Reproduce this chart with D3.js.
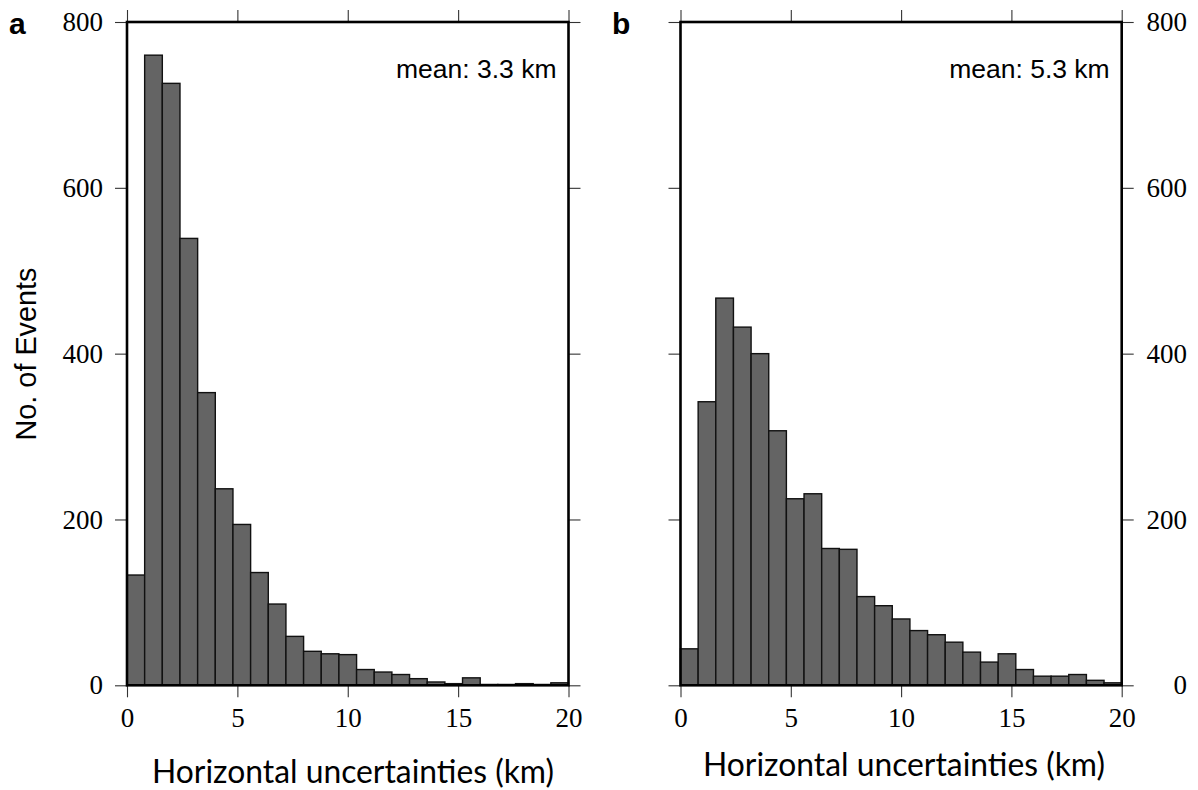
<!DOCTYPE html>
<html>
<head>
<meta charset="utf-8">
<script src="https://cdn.jsdelivr.net/npm/d3@7"></script>
<style>
  html, body { margin: 0; padding: 0; background: #fff; }
  svg { display: block; }
</style>
</head>
<body>
<svg id="chart" width="1198" height="790"></svg>
<script>
// ---- data ----
const binWidth = 0.8; // km
const binStarts = d3.range(0, 20, 0.8).map(v => +v.toFixed(2));
const countsA = [133, 760, 726, 539, 353, 237, 194, 136, 98, 59, 41, 38, 37, 19, 16, 13, 8, 4, 2, 9, 1, 1, 2, 1, 3];
const countsB = [44, 342, 467, 432, 400, 307, 225, 231, 165, 164, 107, 96, 80, 66, 61, 52, 40, 28, 38, 19, 11, 11, 13, 6, 3];
const xTicks = [0, 5, 10, 15, 20];
const yTicks = [0, 200, 400, 600, 800];
const panelLabels = ["a", "b"];
const meanLabels = ["mean: 3.3 km", "mean: 5.3 km"];
const xTitle = "Horizontal uncertainties (km)";
const yTitle = "No. of Events";

const svg = d3.select("#chart");

function fitFont(sel, target, base) {
  sel.style("font-size", base + "px");
  const w = sel.node().getComputedTextLength();
  sel.style("font-size", (base * target / w).toFixed(2) + "px");
}

function panel(opts) {
  const { left, right, top, bottom, counts, side, label, labelX, mean, titleX, titleY, titleW } = opts;
  const x = d3.scaleLinear().domain([0, 20]).range([left, right]);
  const y = d3.scaleLinear().domain([0, 800]).range([bottom, top]);
  const g = svg.append("g");

  // bars
  g.selectAll("rect.bar").data(counts.map((c, i) => ({ x0: binStarts[i], c })))
    .join("rect").attr("class", "bar")
    .attr("x", d => x(d.x0))
    .attr("width", d => x(d.x0 + binWidth) - x(d.x0))
    .attr("y", d => y(d.c))
    .attr("height", d => y(0) - y(d.c))
    .attr("fill", "#646464")
    .attr("stroke", "#111")
    .attr("stroke-width", 1.4);

  // axes (ticks outward on all four sides)
  const tickStyle = a => a.selectAll(".tick line").attr("stroke", "#333").attr("stroke-width", 1.1);
  const serif = "'Liberation Serif', 'Times New Roman', serif";

  const xb = g.append("g").attr("transform", `translate(0,${bottom})`)
    .call(d3.axisBottom(x).tickValues(xTicks).tickSize(12).tickPadding(4).tickFormat(d3.format("d")));
  const xt = g.append("g").attr("transform", `translate(0,${top})`)
    .call(d3.axisTop(x).tickValues(xTicks).tickSize(12).tickFormat(""));
  const yl = g.append("g").attr("transform", `translate(${left},0)`)
    .call(d3.axisLeft(y).tickValues(yTicks).tickSize(12).tickPadding(12).tickFormat(side === "left" ? d3.format("d") : ""));
  const yr = g.append("g").attr("transform", `translate(${right},0)`)
    .call(d3.axisRight(y).tickValues(yTicks).tickSize(12).tickPadding(20).tickFormat(side === "right" ? d3.format("d") : ""));
  [xb, xt, yl, yr].forEach(a => {
    a.select(".domain").remove();
    tickStyle(a);
    a.selectAll("text").attr("font-family", serif).attr("font-size", 27).attr("fill", "#000");
  });
  xb.selectAll("text").attr("dy", "0.95em");
  if (side === "right") {
    yr.selectAll("text").attr("text-anchor", "end").attr("x", 1187 - right);
  }

  // frame
  g.append("rect")
    .attr("x", left).attr("y", top)
    .attr("width", right - left).attr("height", bottom - top)
    .attr("fill", "none").attr("stroke", "#000").attr("stroke-width", 2.6);

  // panel letter
  g.append("text").attr("x", labelX).attr("y", 34)
    .attr("font-family", "'Liberation Sans', Arial, sans-serif")
    .attr("font-weight", "bold").attr("font-size", 30).text(label);

  // mean annotation
  g.append("text").attr("x", right - 12).attr("y", 78)
    .attr("text-anchor", "end")
    .attr("font-family", "'Liberation Sans', Arial, sans-serif")
    .attr("font-size", 26.5).text(mean);

  // x title
  const t = g.append("text").attr("x", titleX).attr("y", titleY)
    .attr("text-anchor", "middle")
    .attr("font-family", "Lato, 'Open Sans', sans-serif")
    .text(xTitle);
  fitFont(t, titleW, 25);
}

panel({ left: 127, right: 568.5, top: 22, bottom: 685.3, counts: countsA, side: "left",
        label: panelLabels[0], labelX: 9, mean: meanLabels[0], titleX: 353, titleY: 783, titleW: 402 });
panel({ left: 680.5, right: 1121.7, top: 22, bottom: 685.3, counts: countsB, side: "right",
        label: panelLabels[1], labelX: 612, mean: meanLabels[1], titleX: 904, titleY: 776, titleW: 402 });

// y title
const yt = svg.append("text")
  .attr("transform", "translate(36,354) rotate(-90)")
  .attr("text-anchor", "middle")
  .attr("font-family", "'Liberation Sans', Arial, sans-serif")
  .text(yTitle);
fitFont(yt, 173, 26);
</script>
</body>
</html>
